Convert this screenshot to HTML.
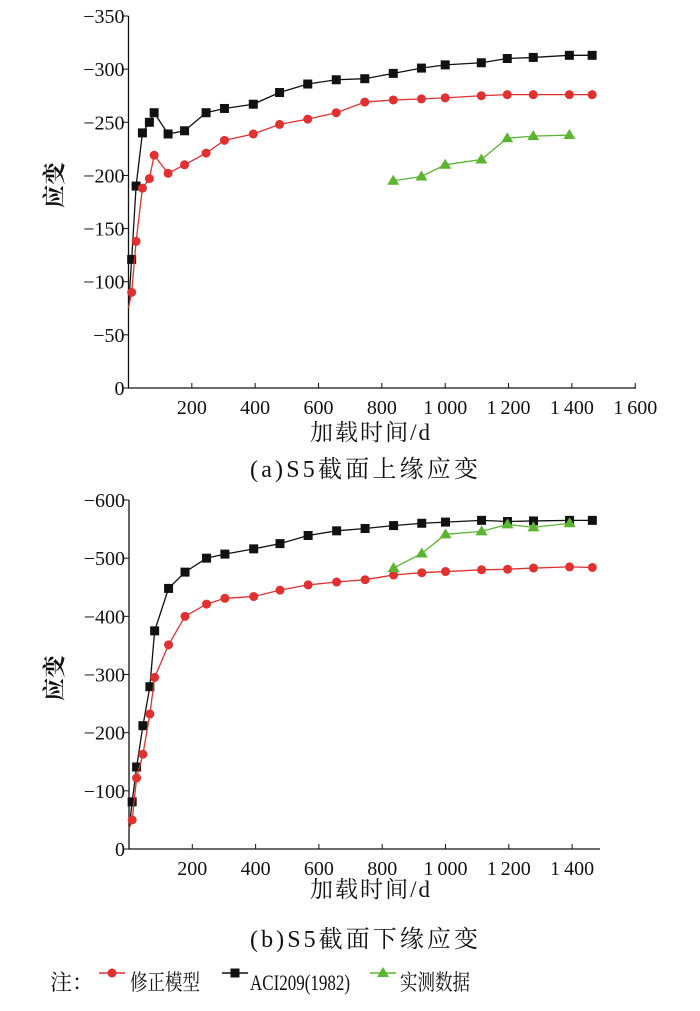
<!DOCTYPE html>
<html><head><meta charset="utf-8"><style>
body{margin:0;background:#fff}
svg text{font-family:"Liberation Serif","Noto Serif CJK SC",serif;fill:#111}
</style></head><body>
<svg id="s" width="700" height="1006" xmlns="http://www.w3.org/2000/svg"></svg>
<script>
const times=[10,24,44,66,81,125,177,245,303,394,477,566,656,746,836,925,1000,1114,1196,1278,1392,1464];
const topAci=[121,190,240,250,259,239,242,259,263,267,278,286,290,291,296,301,304,306,310,311,313,313];
const topModel=[90,138,188,197,219,202,210,221,233,239,248,253,259,269,271,272,273,275,276,276,276,276];
const measTimes=[836,925,1000,1114,1196,1278,1392];
const topMeas=[195,199,210,215,235,237,238];
const botAci=[81,141,212,279,375,448,476,500,507,516,525,539,547,551,556,560,562,565,563,564,565,565];
const botModel=[50,122,163,232,295,351,400,421,431,434,445,454,459,463,471,475,477,480,481,483,485,484];
const botMeas=[483,508,541,546,558,553,560];
const topYTicks=[0,50,100,150,200,250,300,350];
const botYTicks=[0,100,200,300,400,500,600];
const topXTicks=[200,400,600,800,1000,1200,1400,1600];
const botXTicks=[200,400,600,800,1000,1200,1400];
const NS="http://www.w3.org/2000/svg";
const svg=document.getElementById('s');
function mk(t,a,p){const e=document.createElementNS(NS,t);for(const k in a)e.setAttribute(k,a[k]);(p||svg).appendChild(e);return e;}
function fmt(v){return v>=1000?Math.floor(v/1000)+"\u2009"+String(v%1000).padStart(3,'0'):String(v);}
function marker(g,type,x,y,col){
 let e;
 if(type==='c')e=mk('circle',{cx:x,cy:y,r:4.5,fill:col},g);
 else if(type==='s')e=mk('rect',{x:x-4.5,y:y-4.5,width:9,height:9,fill:col},g);
 else e=mk('polygon',{points:`${x},${y-6} ${x-6},${y+4} ${x+6},${y+4}`,fill:col},g);
 return e;
}
function chart(o){
 const g=mk('g',{});
 
 
 const X=v=>o.x0+v*o.kx, Y=v=>o.y0-v*o.ky;
 const ax=mk('path',{d:`M${o.x0},${Y(o.ymax)}V${o.y0}H${o.xend}`,stroke:'#111','stroke-width':1.3,fill:'none'},g);
 
 o.yt.forEach(v=>{mk('line',{x1:o.x0-5,x2:o.x0,y1:Y(v),y2:Y(v),stroke:'#111'},g);
  const t=mk('text',{x:o.x0-4,y:Y(v)+7,'text-anchor':'end','font-size':20},g);t.textContent=v===0?'0':'\u2212'+v;
  });
 o.xt.forEach(v=>{mk('line',{x1:X(v),x2:X(v),y1:o.y0,y2:o.y0-5,stroke:'#111'},g);
  const t=mk('text',{x:X(v),y:o.y0+26,'text-anchor':'middle','font-size':20},g);t.textContent=fmt(v);
  });
 const series=[[o.aci,times,'#111','s','aci209-series'],[o.model,times,'#e03030','c','model-series'],[o.meas,measTimes,'#5cb531','t','measured-series']];
 series.forEach(([vals,ts,col,m,nm])=>{
  const sg=mk('g',{},g);
  let d=(nm==='measured-series'?'':`M${o.x0},${o.y0-(o.start?o.start:0)}`);
  vals.forEach((v,i)=>{d+=(d?'L':'M')+X(ts[i])+','+Y(v);});
  mk('path',{d:d,stroke:col,'stroke-width':1.3,fill:'none'},sg);
  vals.forEach((v,i)=>{const e=marker(sg,m,X(ts[i]),Y(v),col);});
 });
 const yl=mk('text',{x:0,y:0,'font-size':23,'font-weight':'bold',transform:`translate(${o.ylx},${o.yly}) rotate(-90)`,'text-anchor':'middle'},g);yl.textContent='应变';
 
 const xl=mk('text',{x:o.xlx,y:o.xly,'font-size':23,'text-anchor':'middle',textLength:120},g);xl.textContent='加载时间/d';
 
 const cp=mk('text',{x:364,y:o.capy,'font-size':24,'text-anchor':'middle',textLength:228},g);cp.textContent=o.cap;
 
}
chart({name:'chart-top',x0:128.5,y0:388,kx:0.3167,ky:372/350,ymax:350,xend:636,yt:topYTicks,xt:topXTicks,aci:topAci,model:topModel,meas:topMeas,start:80,ylx:62,yly:185,xlx:370,xly:440,capy:477,cap:'(a)S5截面上缘应变'});
chart({name:'chart-bottom',x0:129,y0:849,kx:0.3165,ky:349/600,ymax:600,xend:600,yt:botYTicks,xt:botXTicks,aci:botAci,model:botModel,meas:botMeas,start:20,ylx:62,yly:678,xlx:370,xly:897,capy:947,cap:'(b)S5截面下缘应变'});
const lg=mk('g',{});
const n=mk('text',{x:50,y:990,'font-size':22},lg);n.textContent='注：';
[[99,'#e03030','c','修正模型',130,70],[222,'#111','s','ACI209(1982)',250,100],[370,'#5cb531','t','实测数据',400,70]].forEach(([x,c,m,l,tx,tl])=>{
 const e=mk('g',{},lg);
 mk('line',{x1:x,x2:x+26,y1:973,y2:973,stroke:c,'stroke-width':1.5},e);marker(e,m,x+13,973,c);
 const t=mk('text',{x:tx,y:990,'font-size':22,textLength:tl,lengthAdjust:'spacingAndGlyphs'},e);t.textContent=l;});
</script>
</body></html>
